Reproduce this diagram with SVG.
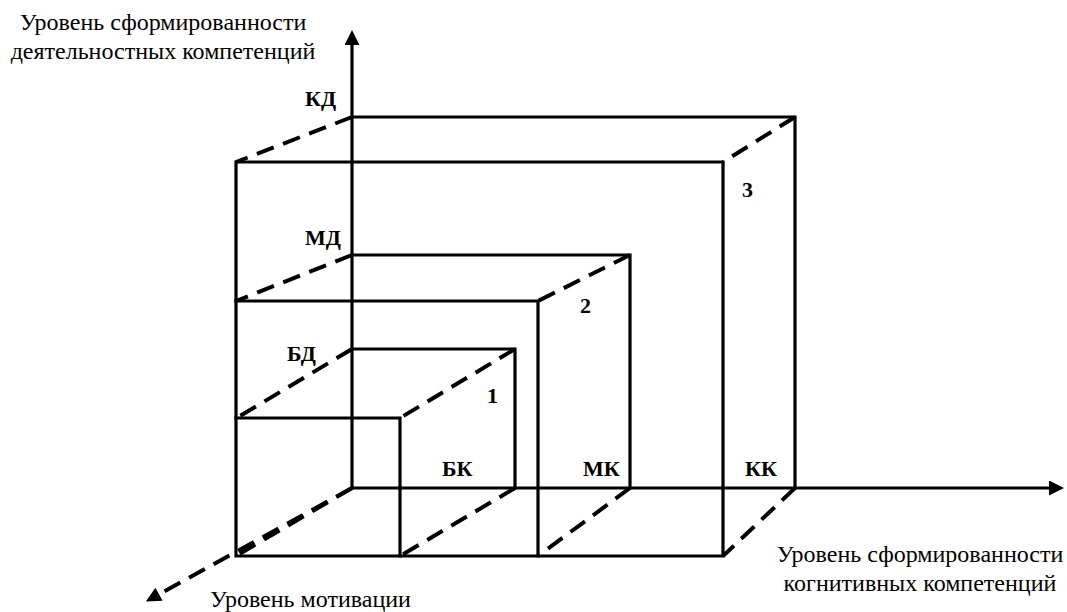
<svg xmlns="http://www.w3.org/2000/svg" width="1067" height="612" viewBox="0 0 1067 612">
<defs>
<style>
.s{fill:none;stroke:#000;stroke-width:3.2;stroke-linecap:square;stroke-linejoin:miter}
.d{fill:none;stroke:#000;stroke-width:4;stroke-dasharray:18 10}
.lb{font-family:"Liberation Serif","Times New Roman",serif;font-weight:bold;font-size:22px;fill:#000}
.tt{font-family:"Liberation Serif","Times New Roman",serif;font-size:24px;fill:#000}
</style>
<marker id="ah" viewBox="0 0 10 10" refX="0" refY="5" markerWidth="18" markerHeight="15" markerUnits="userSpaceOnUse" orient="auto">
<path d="M0,0 L10,5 L0,10 Z" fill="#000"/>
</marker>
</defs>
<rect width="1067" height="612" fill="#fff"/>
<g id="connectors">
<line class="s" x1="352" y1="488" x2="352" y2="45" marker-end="url(#ah)"/>
<line class="s" x1="352" y1="488" x2="1049" y2="488" marker-end="url(#ah)"/>
<line class="d" x1="352" y1="488" x2="159" y2="594.3" marker-end="url(#ah)"/>
<line class="d" x1="352" y1="488" x2="236" y2="556"/>
</g>
<g id="box3">
<path class="s" d="M352,117 H795 V488"/>
<path class="s" d="M236,556 V162 H723 V556 Z"/>
<line class="d" x1="352" y1="117" x2="236" y2="162"/>
<line class="d" x1="795" y1="117" x2="723" y2="162"/>
<line class="d" x1="795" y1="488" x2="723" y2="556"/>
<text class="lb" x="742" y="197">3</text>
</g>
<g id="box2">
<path class="s" d="M352,255 H630 V488"/>
<path class="s" d="M236,301 H538 V556"/>
<line class="d" x1="352" y1="255" x2="236" y2="301"/>
<line class="d" x1="630" y1="255" x2="538" y2="301"/>
<line class="d" x1="630" y1="488" x2="538" y2="556"/>
<text class="lb" x="580" y="313">2</text>
</g>
<g id="box1">
<path class="s" d="M352,349 H515 V488"/>
<path class="s" d="M236,418 H400 V556"/>
<line class="d" x1="352" y1="349" x2="240" y2="416"/>
<line class="d" x1="515" y1="349" x2="400" y2="418"/>
<line class="d" x1="515" y1="488" x2="400" y2="556"/>
<text class="lb" x="487" y="403">1</text>
</g>
<g id="labels">
<text class="lb" x="305" y="106">КД</text>
<text class="lb" x="305" y="245">МД</text>
<text class="lb" x="287" y="361">БД</text>
<text class="lb" x="442" y="476">БК</text>
<text class="lb" x="583" y="476">МК</text>
<text class="lb" x="745" y="476">КК</text>
</g>
<g id="axis-titles">
<text class="tt" x="163" y="30" text-anchor="middle">Уровень сформированности</text>
<text class="tt" x="163" y="59" text-anchor="middle">деятельностных компетенций</text>
<text class="tt" x="920" y="562" text-anchor="middle">Уровень сформированности</text>
<text class="tt" x="920" y="591" text-anchor="middle">когнитивных компетенций</text>
<text class="tt" x="210" y="607">Уровень мотивации</text>
</g>
</svg>
